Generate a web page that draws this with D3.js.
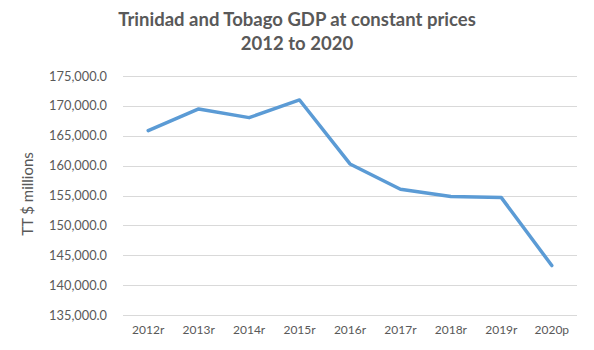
<!DOCTYPE html>
<html>
<head>
<meta charset="utf-8">
<script src="https://cdn.jsdelivr.net/npm/d3@7"></script>
<style>
  body { margin: 0; background: #fff; }
</style>
</head>
<body>
<div id="chart"></div>
<script>
// chart data
const years = ["2012r", "2013r", "2014r", "2015r", "2016r", "2017r", "2018r", "2019r", "2020p"];
const gdp = [165850, 169480, 168030, 170990, 160280, 156050, 154820, 154650, 143280];
const yTicks = [135000, 140000, 145000, 150000, 155000, 160000, 165000, 170000, 175000];
const titleLines = ["Trinidad and Tobago GDP at constant prices", "2012 to 2020"];

const W = 594, H = 350;
const margin = { top: 76, right: 17, bottom: 35, left: 123 },
    width = W - margin.left - margin.right,
    height = H - margin.top - margin.bottom;

const font = "Lato, 'Open Sans', sans-serif";
const grey = "#595959";

const svg = d3.select("#chart")
    .append("svg")
    .attr("width", W)
    .attr("height", H);

const g = svg.append("g")
    .attr("transform", "translate(" + margin.left + "," + margin.top + ")");

// scales
const x = d3.scaleBand()
    .domain(years)
    .range([0, width]);

const y = d3.scaleLinear()
    .domain([135000, 175000])
    .range([height, 0]);

// gridlines
g.append("g")
    .attr("class", "grid")
    .call(d3.axisLeft(y).tickValues(yTicks).tickSize(-width).tickFormat(""))
    .call(s => s.select(".domain").remove())
    .selectAll(".tick line")
    .style("stroke", "#d9d9d9")
    .style("shape-rendering", "crispEdges");

// y axis labels
const fmt = d3.format(",.1f");
g.append("g")
    .call(d3.axisLeft(y).tickValues(yTicks).tickSize(0).tickPadding(16).tickFormat(fmt))
    .call(s => s.select(".domain").remove())
    .selectAll("text")
    .style("fill", grey)
    .style("font-size", "12.8px")
    .style("font-family", font);

// x axis labels
g.append("g")
    .attr("transform", "translate(0," + height + ")")
    .call(d3.axisBottom(x).tickSize(0).tickPadding(10))
    .call(s => s.select(".domain").remove())
    .selectAll("text")
    .style("fill", grey)
    .style("font-size", "12px")
    .style("font-family", font);

// line
const line = d3.line()
    .x((d, i) => x(years[i]) + x.bandwidth() / 2)
    .y(d => y(d));

g.append("path")
    .datum(gdp)
    .attr("d", line)
    .style("fill", "none")
    .style("stroke", "#5b9bd5")
    .style("stroke-width", 3.5)
    .style("stroke-linejoin", "round")
    .style("stroke-linecap", "round");

// title
svg.append("text")
    .attr("text-anchor", "middle")
    .attr("x", 297)
    .attr("y", 0)
    .style("fill", grey)
    .style("font-size", "18.5px")
    .style("font-weight", "bold")
    .style("font-family", font)
    .selectAll("tspan")
    .data(titleLines)
    .enter().append("tspan")
    .attr("x", 297)
    .attr("y", (d, i) => 26 + i * 24)
    .text(d => d);

// y axis title
svg.append("text")
    .attr("text-anchor", "middle")
    .attr("transform", "translate(33,194) rotate(-90)")
    .text("TT $ millions")
    .style("fill", grey)
    .style("font-size", "15px")
    .style("font-family", font);
</script>
</body>
</html>
